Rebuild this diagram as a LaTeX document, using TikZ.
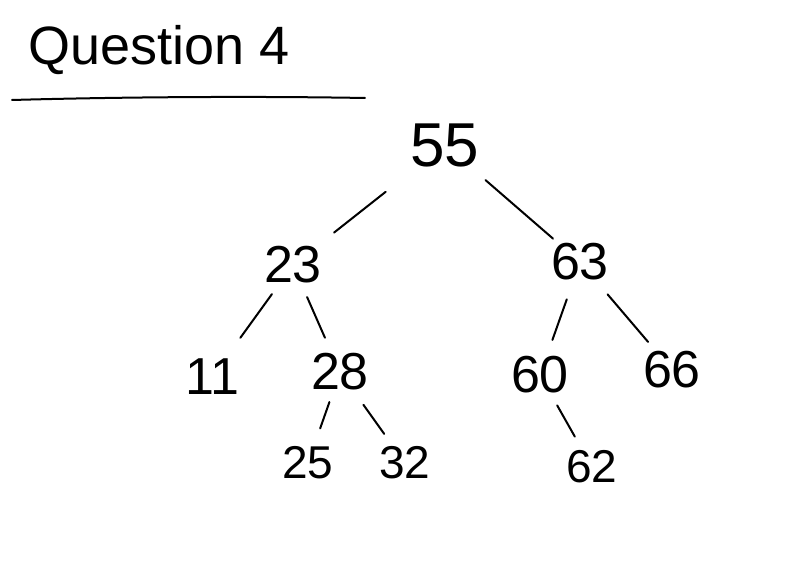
\documentclass[tikz,border=0pt]{standalone}
\usepackage{fontspec}
\setmainfont{Liberation Sans}
\usetikzlibrary{calc}
\begin{document}
\begin{tikzpicture}[x=0.5pt,y=-0.5pt,
  big/.style={inner sep=0pt,font=\fontsize{31}{31}\selectfont},
  mid/.style={inner sep=0pt,font=\fontsize{26}{26}\selectfont},
  small/.style={inner sep=0pt,font=\fontsize{23}{23}\selectfont},
  edge/.style={line width=1pt,line cap=round}]
\fill[white] (0,0) rectangle (810,587);
\useasboundingbox (0,0) rectangle (810,587);
\node[inner sep=0pt,font=\fontsize{27}{27}\selectfont,anchor=west] (title) at (28,50) {Question 4};
\coordinate (ulA) at (12,100);
\coordinate (ulB) at (365,98);
\draw[edge] (ulA) .. controls (120,97) and (250,96) .. (ulB);
\node[big] (n55) at (445,145) {55};
\node[mid] (n23) at (293,265) {23};
\node[mid] (n63) at (580,262) {63};
\node[mid] (n11) at (212,377) {11};
\node[mid] (n28) at (340,372) {28};
\node[mid] (n60) at (540,375) {60};
\node[mid] (n66) at (672,370) {66};
\node[small] (n25) at (308,463) {25};
\node[small] (n32) at (405,463) {32};
\node[small] (n62) at (592,467) {62};
\draw[edge] ($(n55)!0.39!(n23)$) -- ($(n55)!0.73!(n23)$);
\draw[edge] ($(n55)!0.30!(n63)$) .. controls ($(n55)!0.5!(n63)$) .. ($(n55)!0.80!(n63)$);
\draw[edge] ($(n23)!0.26!(n11)$) -- ($(n23)!0.65!(n11)$);
\draw[edge] ($(n23)!0.30!(n28)$) -- ($(n23)!0.68!(n28)$);
\draw[edge] ($(n63)!0.33!(n60)$) -- ($(n63)!0.69!(n60)$);
\draw[edge] ($(n63)!0.30!(n66)$) -- ($(n63)!0.74!(n66)$);
\draw[edge] ($(n28)!0.33!(n25)$) -- ($(n28)!0.62!(n25)$);
\draw[edge] ($(n28)!0.36!(n32)$) -- ($(n28)!0.68!(n32)$);
\draw[edge] ($(n60)!0.33!(n62)$) -- ($(n60)!0.67!(n62)$);
\end{tikzpicture}
\end{document}
